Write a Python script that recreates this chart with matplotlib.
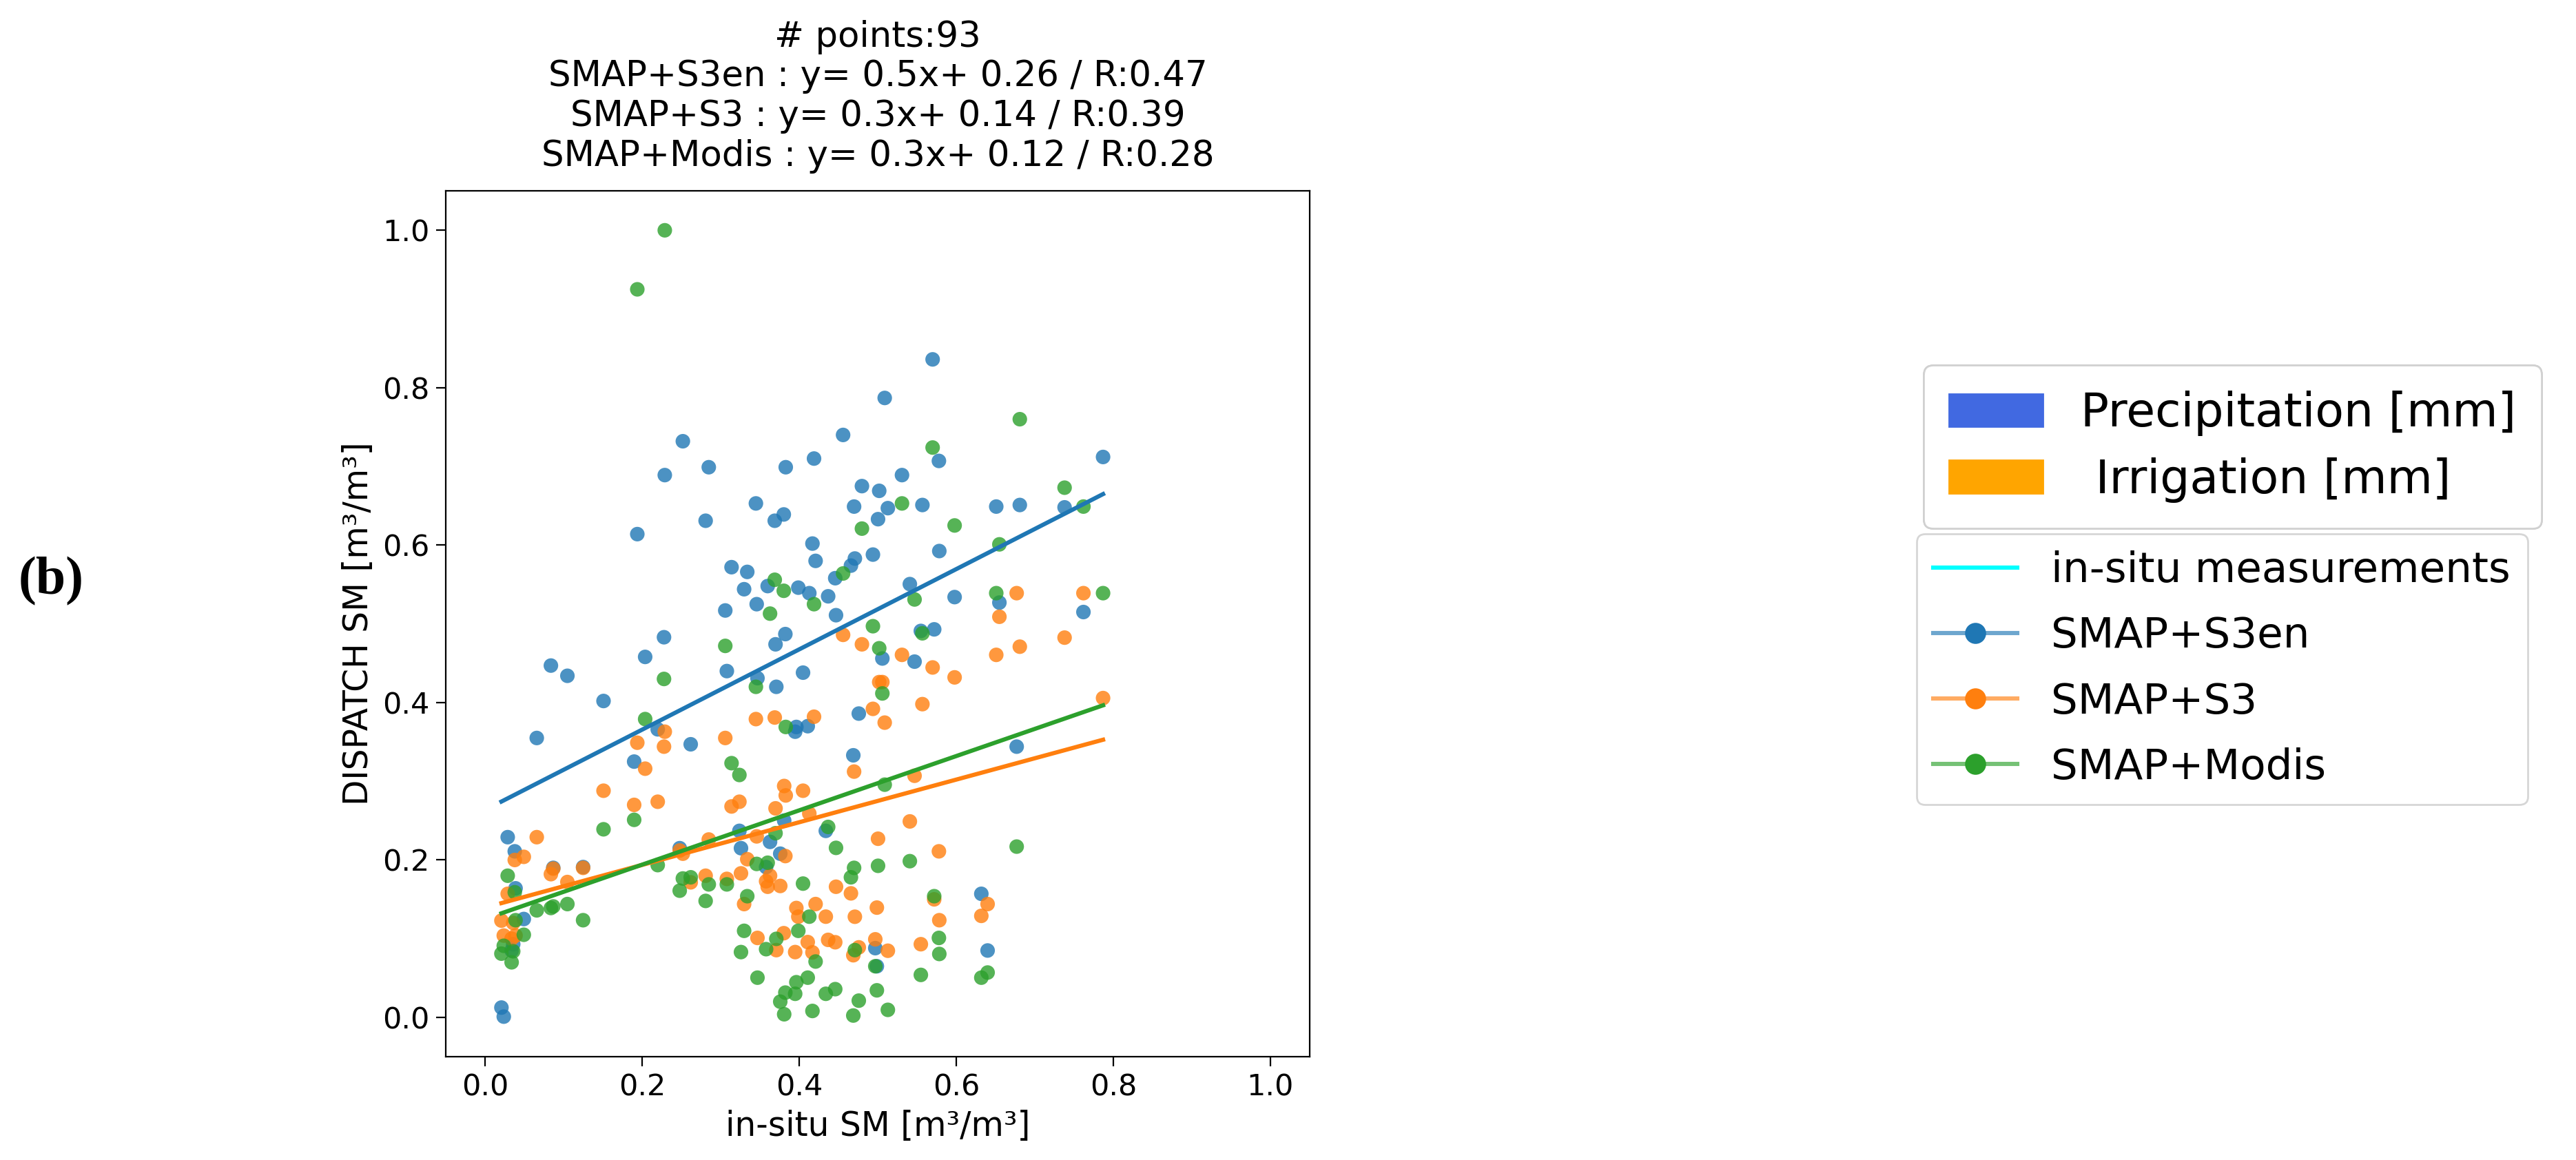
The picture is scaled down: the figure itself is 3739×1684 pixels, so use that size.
import numpy as np
import matplotlib
matplotlib.use('Agg')
import matplotlib.pyplot as plt
from matplotlib.patches import Patch
from matplotlib.lines import Line2D

# in-situ soil moisture for each of the 93 sites (shared x for all products)
insitu = [0.021, 0.024, 0.029, 0.034, 0.036, 0.038, 0.039, 0.0495, 0.066, 0.084,
          0.087, 0.105, 0.125, 0.151, 0.190, 0.194, 0.204, 0.220, 0.228, 0.229,
          0.248, 0.252, 0.262, 0.281, 0.285, 0.306, 0.308, 0.314, 0.324, 0.326,
          0.330, 0.334, 0.345, 0.346, 0.347, 0.358, 0.360, 0.363, 0.369, 0.370,
          0.371, 0.376, 0.3805, 0.381, 0.3825, 0.383, 0.395, 0.3965, 0.399, 0.405,
          0.411, 0.413, 0.417, 0.419, 0.421, 0.434, 0.437, 0.446, 0.447, 0.456,
          0.466, 0.469, 0.470, 0.471, 0.476, 0.480, 0.494, 0.497, 0.499, 0.5005,
          0.502, 0.506, 0.509, 0.513, 0.531, 0.541, 0.547, 0.555, 0.557, 0.570,
          0.572, 0.578, 0.5785, 0.598, 0.632, 0.640, 0.651, 0.655, 0.677, 0.681,
          0.738, 0.762, 0.787]

s3en = [0.0125, 0.001, 0.229, 0.085, 0.093, 0.211, 0.164, 0.125, 0.355, 0.447,
        0.190, 0.434, 0.191, 0.402, 0.325, 0.614, 0.458, 0.366, 0.483, 0.689,
        0.215, 0.732, 0.347, 0.631, 0.699, 0.517, 0.440, 0.572, 0.237, 0.215,
        0.544, 0.566, 0.653, 0.525, 0.431, 0.191, 0.548, 0.223, 0.631, 0.474,
        0.420, 0.208, 0.639, 0.250, 0.487, 0.699, 0.363, 0.369, 0.546, 0.438,
        0.370, 0.539, 0.602, 0.710, 0.580, 0.237, 0.535, 0.558, 0.511, 0.740,
        0.574, 0.333, 0.649, 0.583, 0.386, 0.675, 0.588, 0.088, 0.065, 0.633,
        0.669, 0.456, 0.787, 0.647, 0.689, 0.5505, 0.452, 0.491, 0.651, 0.836,
        0.493, 0.707, 0.5925, 0.534, 0.157, 0.085, 0.649, 0.527, 0.344, 0.651,
        0.648, 0.515, 0.712]

s3 = [0.123, 0.104, 0.157, 0.100, 0.120, 0.200, 0.104, 0.204, 0.229, 0.182,
      0.189, 0.172, 0.190, 0.288, 0.270, 0.349, 0.316, 0.274, 0.344, 0.363,
      0.212, 0.208, 0.1716, 0.180, 0.226, 0.355, 0.176, 0.268, 0.274, 0.183,
      0.144, 0.201, 0.379, 0.230, 0.101, 0.173, 0.166, 0.180, 0.381, 0.2656,
      0.0855, 0.167, 0.107, 0.294, 0.205, 0.282, 0.083, 0.139, 0.128, 0.288,
      0.0957, 0.259, 0.0826, 0.382, 0.144, 0.128, 0.0985, 0.0955, 0.166, 0.486,
      0.1576, 0.079, 0.3123, 0.1279, 0.089, 0.474, 0.392, 0.0992, 0.1395, 0.227,
      0.426, 0.426, 0.3745, 0.0847, 0.4606, 0.249, 0.307, 0.093, 0.398, 0.4446,
      0.150, 0.211, 0.1235, 0.432, 0.129, 0.144, 0.4606, 0.509, 0.539, 0.471,
      0.4825, 0.539, 0.4057]

modis = [0.081, 0.091, 0.180, 0.070, 0.084, 0.159, 0.1235, 0.105, 0.136, 0.139,
         0.141, 0.144, 0.1235, 0.239, 0.251, 0.925, 0.379, 0.1935, 0.430, 1.000,
         0.161, 0.1765, 0.178, 0.148, 0.169, 0.472, 0.169, 0.323, 0.308, 0.083,
         0.110, 0.154, 0.420, 0.195, 0.0505, 0.0867, 0.1965, 0.513, 0.556, 0.234,
         0.0998, 0.020, 0.542, 0.004, 0.0315, 0.369, 0.030, 0.0447, 0.110, 0.170,
         0.0505, 0.128, 0.0082, 0.525, 0.071, 0.030, 0.242, 0.0359, 0.2154, 0.564,
         0.178, 0.0024, 0.190, 0.0855, 0.0213, 0.621, 0.497, 0.065, 0.0344, 0.1926,
         0.469, 0.4116, 0.2957, 0.0096, 0.653, 0.1985, 0.531, 0.054, 0.488, 0.724,
         0.154, 0.101, 0.0806, 0.625, 0.0505, 0.057, 0.539, 0.601, 0.217, 0.760,
         0.673, 0.649, 0.539]

# fitted lines: slope, intercept
products = ['SMAP+S3en', 'SMAP+S3', 'SMAP+Modis']
fit_slope = [0.51, 0.271, 0.345]
fit_icpt = [0.2635, 0.1395, 0.125]
title_lines = ['# points:93',
               'SMAP+S3en : y= 0.5x+ 0.26 / R:0.47',
               'SMAP+S3 : y= 0.3x+ 0.14 / R:0.39',
               'SMAP+Modis : y= 0.3x+ 0.12 / R:0.28']

colors = ['C0', 'C1', 'C2']
series = [s3en, s3, modis]

fig = plt.figure(figsize=(3739 / 200, 1684 / 200), dpi=200)
ax = fig.add_axes([0.173, 0.089, 0.3354, 0.7464])

x = np.array(insitu)
for ys, c, m, b in zip(series, colors, fit_slope, fit_icpt):
    ax.scatter(x, ys, s=58, color=c, alpha=0.8, edgecolors='none')
    xl = np.array([x.min(), x.max()])
    ax.plot(xl, m * xl + b, color=c, lw=2.2)

ax.set_xlim(-0.05, 1.05)
ax.set_ylim(-0.05, 1.05)
ax.set_xticks(np.arange(0, 1.01, 0.2))
ax.set_yticks(np.arange(0, 1.01, 0.2))
ax.tick_params(labelsize=15.5, length=5)
ax.set_xlabel('in-situ SM [m³/m³]', fontsize=17.5)
ax.set_ylabel('DISPATCH SM [m³/m³]', fontsize=17.5)
ax.set_title('\n'.join(title_lines), fontsize=18.5, linespacing=1.2, pad=13)

# legends on the right
h1 = [Patch(color='royalblue'), Patch(color='orange')]
leg1 = fig.legend(h1, ['Precipitation [mm]', ' Irrigation [mm]'], fontsize=24.5,
                  loc='upper left', bbox_to_anchor=(0.7467, 0.6853),
                  borderaxespad=0, labelspacing=0.45, borderpad=0.55)
h2 = [Line2D([], [], color='cyan', lw=2.2)]
for c in colors:
    rgba = matplotlib.colors.to_rgba(c, 0.65)
    h2.append(Line2D([], [], color=rgba, lw=2.2, marker='o', markersize=10,
                     markerfacecolor=c, markeredgecolor=c))
fig.legend(h2, ['in-situ measurements'] + products, fontsize=22,
           loc='upper left', bbox_to_anchor=(0.7440, 0.5398),
           borderaxespad=0, labelspacing=0.59)
fig.add_artist(leg1)

fig.text(0.0198, 0.499, '(b)', fontsize=28, fontweight='bold',
         family='Liberation Serif', ha='center', va='center')

fig.savefig('out.png', dpi=200)
